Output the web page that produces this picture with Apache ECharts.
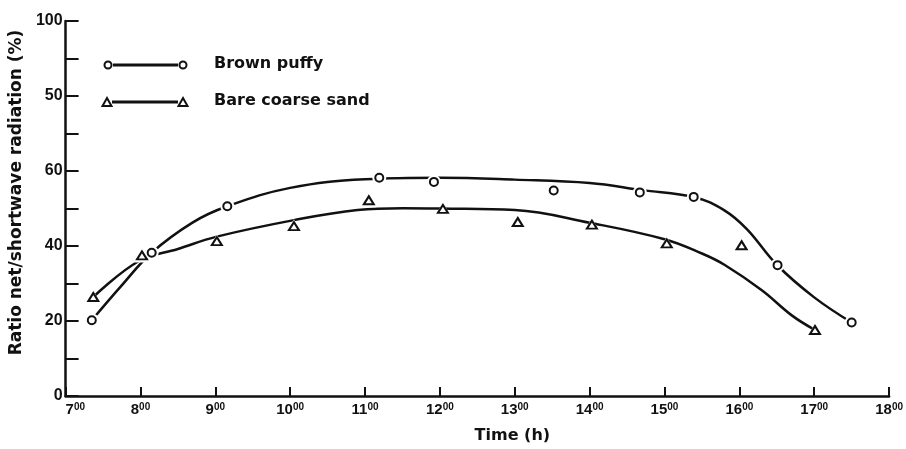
<!DOCTYPE html>
<html>
<head>
<meta charset="utf-8">
<script src="https://cdn.jsdelivr.net/npm/echarts@6/dist/echarts.min.js"></script>
<style>
  html, body { margin: 0; padding: 0; background: #fff; }
  #chart { width: 906px; height: 449px; }
</style>
</head>
<body>
<div id="chart"></div>
<script>
// Measured ratios (time in decimal hours)
const puffyTime  = [7.35, 8.15, 9.16, 11.19, 11.92, 13.52, 14.67, 15.39, 16.51, 17.50];
const puffyRatio = [20.2, 38.2, 50.6, 58.2, 57.1, 54.8, 54.3, 53.1, 34.9, 19.6];
const sandTime   = [7.37, 8.02, 9.02, 10.05, 11.05, 12.04, 13.04, 14.03, 15.03, 16.03, 17.01];
const sandRatio  = [26.4, 37.5, 41.3, 45.3, 52.2, 49.9, 46.4, 45.7, 40.7, 40.2, 17.6];

// Hand-fitted curves through the measurements
const puffyCurveTime  = [7.35, 7.75, 8.15, 8.7, 9.16, 10.0, 11.0, 12.0, 13.0, 14.0, 14.7, 15.4, 15.8, 16.1, 16.5, 17.0, 17.5];
const puffyCurveRatio = [20.2, 29.5, 38.2, 46.3, 50.6, 55.5, 57.8, 58.2, 57.7, 56.8, 54.9, 53.0, 49.5, 44.5, 35.0, 26.3, 19.6];
const sandCurveTime   = [7.37, 7.98, 8.5, 9.02, 10.05, 10.9, 11.5, 12.0, 13.0, 14.0, 15.0, 15.5, 15.8, 16.3, 16.7, 17.01];
const sandCurveRatio  = [26.4, 36.0, 39.2, 42.5, 46.9, 49.6, 50.1, 50.0, 49.6, 46.2, 41.8, 38.0, 35.0, 28.2, 21.5, 17.6];

// Axis tick texts
const yTickText = ['0', '20', '40', '60', '50', '100'];
const xHours = [7, 8, 9, 10, 11, 12, 13, 14, 15, 16, 17, 18];

const seriesNames = ['Brown puffy', 'Bare coarse sand'];
const yAxisTitle = 'Ratio net/shortwave radiation (%)';
const xAxisTitle = 'Time (h)';

const zip = (a, b) => a.map((v, i) => [v, b[i]]);
const ink = '#111';
const font = 'Liberation Sans';

const chart = echarts.init(document.getElementById('chart'), null, { renderer: 'canvas' });

const triPath = 'path://M5,0 L10,9 L0,9 Z';

chart.setOption({
  backgroundColor: '#fff',
  animation: false,
  grid: { left: 63, right: 16, top: 21, bottom: 51 },
  xAxis: {
    type: 'value', min: 7, max: 18, interval: 1,
    name: xAxisTitle, nameLocation: 'middle', nameGap: 32,
    nameTextStyle: { color: ink, fontFamily: 'DejaVu Sans', fontSize: 16, fontWeight: 'bold', padding: [0, 0, 0, 70] },
    axisLine: { show: true, lineStyle: { color: ink, width: 2.5 } },
    axisTick: { show: true, inside: true, length: 9, lineStyle: { color: ink, width: 2 } },
    splitLine: { show: false },
    axisLabel: {
      margin: 6,
      alignMinLabel: 'left',
      formatter: v => xHours.indexOf(v) >= 0 ? '{h|' + v + '}{m|00}' : '',
      rich: {
        h: { fontFamily: font, fontWeight: 'bold', fontSize: 15, color: ink },
        m: { fontFamily: font, fontWeight: 'bold', fontSize: 10, color: ink, padding: [0, 0, 6, 0] }
      }
    }
  },
  yAxis: {
    type: 'value', min: 0, max: 100, interval: 10,
    name: yAxisTitle, nameLocation: 'middle', nameGap: 36,
    nameTextStyle: { color: ink, fontFamily: 'DejaVu Sans', fontSize: 17, fontWeight: 'bold', padding: [0, 0, 0, 32] },
    axisLine: { show: true, lineStyle: { color: ink, width: 2.5 } },
    axisTick: { show: true, inside: true, length: 13, lineStyle: { color: ink, width: 2 } },
    splitLine: { show: false },
    axisLabel: {
      margin: 3,
      color: ink, fontFamily: font, fontWeight: 'bold', fontSize: 16,
      formatter: v => (v % 20 === 0) ? yTickText[v / 20] : ''
    }
  },
  series: [
    {
      name: seriesNames[0] + ' curve', type: 'line', smooth: 0.4, symbol: 'none', z: 2,
      lineStyle: { color: ink, width: 2.5 },
      data: zip(puffyCurveTime, puffyCurveRatio)
    },
    {
      name: seriesNames[1] + ' curve', type: 'line', smooth: 0.4, symbol: 'none', z: 2,
      lineStyle: { color: ink, width: 2.5 },
      data: zip(sandCurveTime, sandCurveRatio)
    },
    {
      name: seriesNames[0] + ' halo', type: 'scatter', symbol: 'circle', symbolSize: 14, z: 3,
      itemStyle: { color: '#fff', opacity: 1 },
      data: zip(puffyTime, puffyRatio), silent: true
    },
    {
      name: seriesNames[1] + ' halo', type: 'scatter', symbol: triPath, symbolSize: [15, 14], z: 3,
      itemStyle: { color: '#fff', opacity: 1 },
      data: zip(sandTime, sandRatio), silent: true
    },
    {
      name: seriesNames[0], type: 'scatter', symbol: 'circle', symbolSize: 8, z: 4,
      itemStyle: { color: '#fff', borderColor: ink, borderWidth: 2, opacity: 1 },
      data: zip(puffyTime, puffyRatio)
    },
    {
      name: seriesNames[1], type: 'scatter', symbol: triPath, symbolSize: [10, 8], z: 4,
      itemStyle: { color: '#fff', borderColor: ink, borderWidth: 2, opacity: 1 },
      data: zip(sandTime, sandRatio)
    }
  ],
  graphic: [
    // key: Brown puffy
    { type: 'line', shape: { x1: 113, y1: 65, x2: 178, y2: 65 }, style: { stroke: ink, lineWidth: 3 } },
    { type: 'circle', shape: { cx: 108, cy: 65, r: 3.5 }, style: { fill: '#fff', stroke: ink, lineWidth: 2 } },
    { type: 'circle', shape: { cx: 183, cy: 65, r: 3.5 }, style: { fill: '#fff', stroke: ink, lineWidth: 2 } },
    { type: 'text', left: 214, top: 56, style: { text: seriesNames[0], fill: ink, font: 'bold 16px "DejaVu Sans"' } },
    // key: Bare coarse sand
    { type: 'line', shape: { x1: 112, y1: 102, x2: 178, y2: 102 }, style: { stroke: ink, lineWidth: 3 } },
    { type: 'polygon', shape: { points: [[107, 98], [111.5, 106], [102.5, 106]] }, style: { fill: '#fff', stroke: ink, lineWidth: 2 } },
    { type: 'polygon', shape: { points: [[183, 98], [187.5, 106], [178.5, 106]] }, style: { fill: '#fff', stroke: ink, lineWidth: 2 } },
    { type: 'text', left: 214, top: 93, style: { text: seriesNames[1], fill: ink, font: 'bold 16px "DejaVu Sans"' } }
  ]
});
</script>
</body>
</html>
